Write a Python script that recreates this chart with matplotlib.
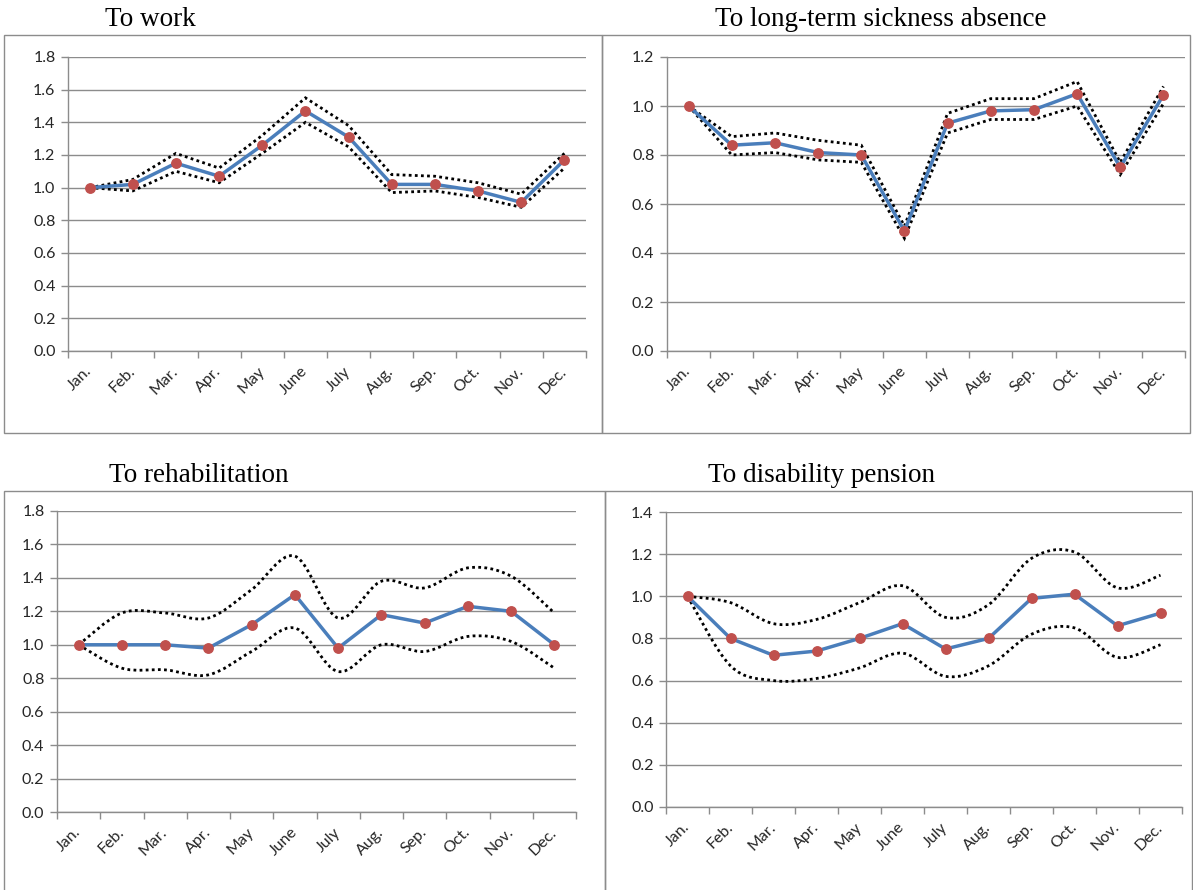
import matplotlib
matplotlib.use("Agg")
import matplotlib.pyplot as plt
from matplotlib.patches import Rectangle, PathPatch
from matplotlib.path import Path
from matplotlib.ticker import FormatStrFormatter
import numpy as np

months = ['Jan.', 'Feb.', 'Mar.', 'Apr.', 'May', 'June', 'July', 'Aug.', 'Sep.', 'Oct.', 'Nov.', 'Dec.']

# monthly ratios with lower / upper confidence limits
work = [1.00, 1.02, 1.15, 1.07, 1.26, 1.47, 1.31, 1.02, 1.02, 0.98, 0.91, 1.17]
work_hi = [1.00, 1.05, 1.21, 1.12, 1.32, 1.55, 1.38, 1.08, 1.07, 1.03, 0.96, 1.21]
work_lo = [1.00, 0.98, 1.10, 1.03, 1.21, 1.40, 1.25, 0.97, 0.98, 0.94, 0.88, 1.12]

sick = [1.00, 0.84, 0.85, 0.81, 0.80, 0.49, 0.93, 0.98, 0.985, 1.05, 0.75, 1.045]
sick_hi = [1.00, 0.875, 0.89, 0.86, 0.84, 0.51, 0.97, 1.03, 1.03, 1.10, 0.77, 1.08]
sick_lo = [1.00, 0.80, 0.81, 0.78, 0.77, 0.46, 0.89, 0.945, 0.945, 1.00, 0.72, 1.01]

rehab = [1.00, 1.00, 1.00, 0.98, 1.12, 1.30, 0.98, 1.18, 1.13, 1.23, 1.20, 1.00]
rehab_hi = [1.00, 1.19, 1.19, 1.16, 1.33, 1.53, 1.16, 1.38, 1.34, 1.46, 1.41, 1.19]
rehab_lo = [1.00, 0.86, 0.85, 0.82, 0.96, 1.10, 0.84, 1.00, 0.96, 1.05, 1.02, 0.86]

pension = [1.00, 0.80, 0.72, 0.74, 0.80, 0.87, 0.75, 0.80, 0.99, 1.01, 0.86, 0.92]
pension_hi = [1.00, 0.97, 0.87, 0.89, 0.97, 1.05, 0.90, 0.96, 1.18, 1.21, 1.04, 1.10]
pension_lo = [1.00, 0.67, 0.60, 0.61, 0.66, 0.73, 0.62, 0.67, 0.82, 0.85, 0.71, 0.77]

W, H = 1193, 890
fig = plt.figure(figsize=(W / 100, H / 100), dpi=100)
fig.patch.set_facecolor('white')

grey = '#8c8c8c'
textc = '#262626'
dots = dict(edgecolor='black', linestyle=(0, (1, 1.2)), lw=2.0, zorder=3)

def px_axes(l, r, t, b):
    return fig.add_axes([l / W, 1 - b / H, (r - l) / W, (b - t) / H])

def box(x0, x1, y0, y1):
    fig.patches.append(Rectangle((x0 / W, 1 - y1 / H), (x1 - x0) / W, (y1 - y0) / H,
                                 transform=fig.transFigure, fill=False,
                                 edgecolor=grey, linewidth=1.0))

def title(x, y, s):
    fig.text(x / W, 1 - y / H, s, ha='center', va='center',
             family='Liberation Serif', fontsize=19.5)

def band_line(ax, y, smooth):
    # confidence limit as a Bezier path; straight segments unless smoothed
    x = np.arange(len(y), dtype=float)
    y = np.asarray(y, dtype=float)
    verts = [(x[0], y[0])]
    codes = [Path.MOVETO]
    n = len(y)
    for i in range(n - 1):
        if smooth:
            i0 = max(i - 1, 0)
            i3 = min(i + 2, n - 1)
            c1 = (x[i] + (x[i + 1] - x[i0]) / 6, y[i] + (y[i + 1] - y[i0]) / 6)
            c2 = (x[i + 1] - (x[i3] - x[i]) / 6, y[i + 1] - (y[i3] - y[i]) / 6)
            verts += [c1, c2, (x[i + 1], y[i + 1])]
            codes += [Path.CURVE4] * 3
        else:
            verts.append((x[i + 1], y[i + 1]))
            codes.append(Path.LINETO)
    ax.add_patch(PathPatch(Path(verts, codes), fill=False, **dots))

def panel(ax, vals, lo, hi, ymax, smooth):
    x = np.arange(len(months))
    band_line(ax, hi, smooth)
    band_line(ax, lo, smooth)
    ax.plot(x, vals, color='#4a7ebb', lw=2.5, zorder=4)
    ax.plot(x, vals, ls='none', marker='o', ms=6.8, color='#c0504d', zorder=5)
    ax.set_xlim(-0.5, len(months) - 0.5)
    ax.set_ylim(0, ymax)
    ax.set_yticks(np.arange(0, ymax + 0.01, 0.2))
    ax.yaxis.set_major_formatter(FormatStrFormatter('%.1f'))
    ax.set_xticks(np.arange(-0.5, len(months), 1.0))
    ax.set_xticklabels([])
    ax.set_xticks(x, minor=True)
    ax.set_xticklabels(months, minor=True, rotation=45, ha='right', va='center',
                       rotation_mode='anchor', family='Lato', fontsize=11.5, color=textc)
    ax.tick_params(axis='x', which='major', direction='out', length=5, width=1, color=grey)
    ax.tick_params(axis='x', which='minor', length=0, pad=13)
    ax.tick_params(axis='y', direction='out', length=5, width=1, color=grey, pad=4,
                   labelsize=11.5, labelcolor=textc)
    for lab in ax.get_yticklabels():
        lab.set_family('Lato')
    ax.grid(axis='y', color=grey, lw=1.0)
    ax.set_axisbelow(True)
    for s in ('top', 'right'):
        ax.spines[s].set_visible(False)
    for s in ('left', 'bottom'):
        ax.spines[s].set_color(grey)
        ax.spines[s].set_linewidth(1.0)
    ax.set_facecolor('none')

box(4, 602, 35, 433)
box(602, 1190, 35, 433)
box(4, 605, 491, 892)
box(605, 1192, 491, 892)

ax1 = px_axes(68, 586, 57, 351)
panel(ax1, work, work_lo, work_hi, 1.8, smooth=False)
title(150, 19, 'To work')

ax2 = px_axes(667, 1185, 57, 351)
panel(ax2, sick, sick_lo, sick_hi, 1.2, smooth=False)
title(881, 19, 'To long-term sickness absence')

ax3 = px_axes(57, 576, 511, 812)
panel(ax3, rehab, rehab_lo, rehab_hi, 1.8, smooth=True)
title(199, 475, 'To rehabilitation')

ax4 = px_axes(666, 1182, 512, 807)
panel(ax4, pension, pension_lo, pension_hi, 1.4, smooth=True)
title(822, 475, 'To disability pension')

fig.savefig('out.png', dpi=100)
